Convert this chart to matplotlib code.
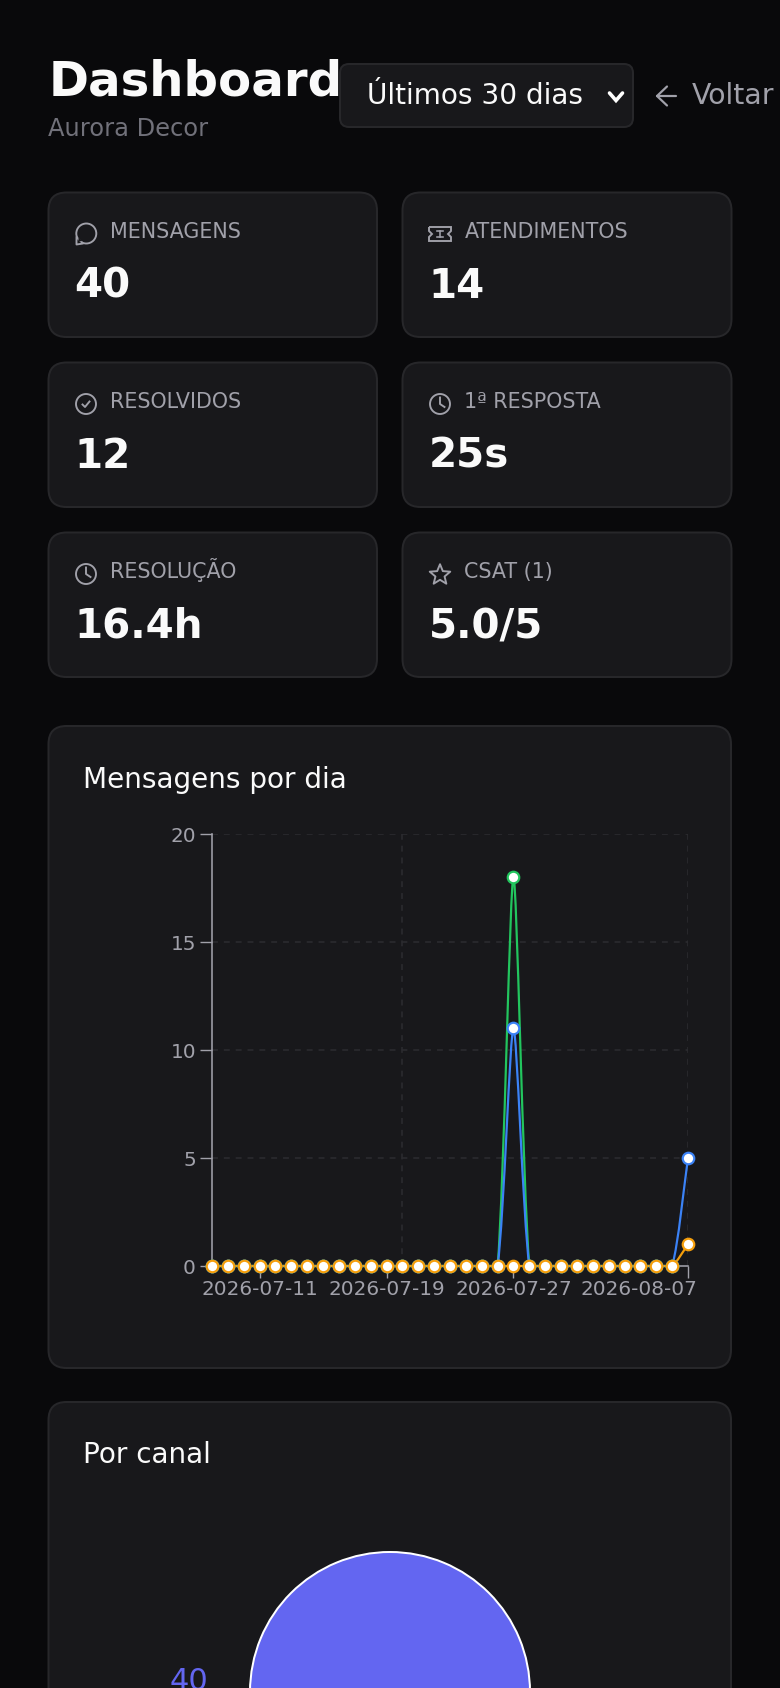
import numpy as np
import matplotlib
matplotlib.use("Agg")
import matplotlib.pyplot as plt
from matplotlib.patches import FancyBboxPatch, Circle, PathPatch, Polygon
from matplotlib.path import Path
from matplotlib.transforms import ScaledTranslation

# ---------------------------------------------------------
# data
# ---------------------------------------------------------
TITLE = "Dashboard"
SUBTITLE = "Aurora Decor"
PERIOD = "Últimos 30 dias"
BACK = "Voltar"

KPI_LABELS = ["MENSAGENS", "ATENDIMENTOS", "RESOLVIDOS", "1ª RESPOSTA", "RESOLUÇÃO", "CSAT (1)"]
KPI_VALUES = ["40", "14", "12", "25s", "16.4h", "5.0/5"]
KPI_ICONS = ["chat", "ticket", "check", "clock", "clock", "star"]

DAYS = list(range(31))
# the green series stops one day earlier than the other two
SERIES_GREEN = [0, 0, 0, 0, 0, 0, 0, 0, 0, 0, 0, 0, 0, 0, 0, 0, 0, 0, 0, 18, 0, 0, 0, 0, 0, 0, 0, 0, 0, 0]
SERIES_BLUE = [0, 0, 0, 0, 0, 0, 0, 0, 0, 0, 0, 0, 0, 0, 0, 0, 0, 0, 0, 11, 0, 0, 0, 0, 0, 0, 0, 0, 0, 0, 5]
SERIES_ORANGE = [0, 0, 0, 0, 0, 0, 0, 0, 0, 0, 0, 0, 0, 0, 0, 0, 0, 0, 0, 0, 0, 0, 0, 0, 0, 0, 0, 0, 0, 0, 1]

X_TICKS = [3, 11, 19, 30]
X_LABELS = ["2026-07-11", "2026-07-19", "2026-07-27", "2026-08-07"]
X_GRID = [0, 12, 30]
Y_TICKS = [0, 5, 10, 15, 20]

CANAL_VALUES = [40]
CANAL_LABELS = ["40"]

# colours
BG = "#09090b"
CARD = "#18181b"
BORDER = "#27272a"
MUTED = "#a1a1aa"
DIM = "#71717a"
LIGHT = "#fafafa"
GRID = "#2b2b2f"
GREEN = "#22c55e"
BLUE = "#3b82f6"
ORANGE = "#f59e0b"
INDIGO = "#6366f1"


def px(v):
    # css pixels to points at dpi 100
    return v * 0.72


# ---------------------------------------------------------
# page background, all in pixel coordinates
# ---------------------------------------------------------
fig = plt.figure(figsize=(7.8, 16.88), dpi=100, facecolor=BG)
bg = fig.add_axes([0, 0, 1, 1], zorder=0)
bg.set_xlim(0, 780)
bg.set_ylim(1688, 0)
bg.axis("off")


def card(x0, y0, x1, y1, r=18):
    bg.add_patch(FancyBboxPatch((x0, y0), x1 - x0, y1 - y0,
                                boxstyle=f"round,pad=0,rounding_size={r}",
                                fc=CARD, ec=BORDER, lw=px(2), mutation_aspect=1))


def icon(kind, x, y):
    # x, y = centre of the icon
    style = dict(fc="none", ec=MUTED, lw=px(1.9))
    if kind == "chat":
        bg.add_patch(Circle((x + 0.3, y - 0.5), 10, **style))
        bg.add_patch(Polygon([(x - 9.5, y + 3), (x - 9.5, y + 10.5), (x - 3, y + 9.5)],
                             fc=CARD, ec=MUTED, lw=px(1.9), joinstyle="round"))
        bg.add_patch(Polygon([(x - 7.5, y + 3), (x - 7.5, y + 7.5), (x - 3.5, y + 7)],
                             fc=CARD, ec="none"))
    elif kind == "ticket":
        path = Path([(x - 11, y - 7), (x + 11, y - 7), (x + 11, y - 3), (x + 8, y), (x + 11, y + 3),
                     (x + 11, y + 7), (x - 11, y + 7), (x - 11, y + 3), (x - 8, y), (x - 11, y - 3),
                     (x - 11, y - 7)], closed=False)
        bg.add_patch(PathPatch(path, **style))
        bg.plot([x - 3, x + 3], [y - 3, y - 3], color=MUTED, lw=px(1.6))
        bg.plot([x - 3, x + 3], [y + 3, y + 3], color=MUTED, lw=px(1.6))
        bg.plot([x, x], [y - 3, y + 3], color=MUTED, lw=px(1.6))
    elif kind == "check":
        bg.add_patch(Circle((x, y), 10, **style))
        bg.plot([x - 3.5, x - 1, x + 3.5], [y + 0.5, y + 3, y - 2.5], color=MUTED, lw=px(1.9))
    elif kind == "clock":
        bg.add_patch(Circle((x, y), 10, **style))
        bg.plot([x, x, x + 4.5], [y - 6.5, y, y + 3], color=MUTED, lw=px(1.9))
    elif kind == "star":
        ang = np.radians(np.arange(-90, 270, 36))
        rad = np.array([10.8, 4.8, 10.8, 4.8, 10.8, 4.8, 10.8, 4.8, 10.8, 4.8])
        bg.add_patch(Polygon(np.c_[x + rad * np.cos(ang), y + 1 + rad * np.sin(ang)],
                             joinstyle="round", **style))


# ---------------------------------------------------------
# header
# ---------------------------------------------------------
bg.text(49, 96, TITLE, fontsize=px(48.2), fontweight="bold", color=LIGHT, va="baseline")
bg.text(48, 136, SUBTITLE, fontsize=px(24.1), color=DIM, va="baseline")

card(340, 64, 633, 127, r=9)
bg.text(367, 104, PERIOD, fontsize=px(28), color=LIGHT, va="baseline")
bg.plot([609.5, 616, 622.5], [93, 100.5, 93], color="white", lw=px(3.6), solid_capstyle="round",
        solid_joinstyle="miter")

bg.plot([676, 657, 667], [96, 96, 86.5], color=MUTED, lw=px(2.2), solid_capstyle="round")
bg.plot([657, 667], [96, 105.5], color=MUTED, lw=px(2.2), solid_capstyle="round")
bg.text(691.5, 104, BACK, fontsize=px(28.4), color=MUTED, va="baseline")

# ---------------------------------------------------------
# KPI cards
# ---------------------------------------------------------
col_x = [(48.5, 377), (402.5, 731.5)]
row_y = [(192.5, 337), (362.5, 507), (532.5, 677)]
for i in range(len(KPI_LABELS)):
    x0, x1 = col_x[i % 2]
    y0, y1 = row_y[i // 2]
    card(x0, y0, x1, y1)
    icon(KPI_ICONS[i], x0 + 37.5, y0 + 41.5)
    bg.text(x0 + 62, y0 + 45.5, KPI_LABELS[i], fontsize=px(20.7), color=MUTED, va="baseline")
    bg.text(x0 + 26, y0 + 105.5, KPI_VALUES[i], fontsize=px(40.4), fontweight="bold", color=LIGHT, va="baseline")

# ---------------------------------------------------------
# Mensagens por dia
# ---------------------------------------------------------
card(48.5, 726, 731, 1368)
bg.text(83, 788, "Mensagens por dia", fontsize=px(27.9), color=LIGHT, va="baseline")

ax = fig.add_axes([212 / 780, 1 - 1266 / 1688, (688 - 212) / 780, (1266 - 834) / 1688], zorder=1)
ax.set_facecolor("none")
ax.set_xlim(DAYS[0], DAYS[-1])
ax.set_ylim(Y_TICKS[0], Y_TICKS[-1])

for s in ["top", "right"]:
    ax.spines[s].set_visible(False)
for s in ["left", "bottom"]:
    ax.spines[s].set_color(MUTED)
    ax.spines[s].set_linewidth(px(1.6))

ax.set_yticks(Y_TICKS)
ax.set_xticks(X_TICKS)
ax.set_xticklabels(X_LABELS)
ax.tick_params(axis="both", length=px(12), width=px(1.4), color=MUTED, labelcolor=MUTED,
               labelsize=px(20), pad=px(4))
ax.tick_params(axis="x", pad=px(2))
ax.grid(False)
for v in Y_TICKS[1:]:
    ax.axhline(v, color=GRID, lw=px(1.6), dashes=(3.7, 3.7), zorder=1)
for v in X_GRID[1:]:
    ax.axvline(v, color=GRID, lw=px(1.6), dashes=(3.7, 3.7), zorder=1)

# last date label sits inside the plot edge
last = ax.get_xticklabels()[-1]
last.set_ha("right")
last.set_transform(last.get_transform() + ScaledTranslation(9 / 100, 0, fig.dpi_scale_trans))


def smooth_line(xs, ys, color, smooth=0.22):
    # smooth curve through the points, tangents taken in screen space
    pts = ax.transData.transform(np.c_[xs, ys])
    n = len(pts)
    cp_in = pts.copy()
    cp_out = pts.copy()
    for k in range(n):
        prv = pts[max(k - 1, 0)]
        nxt = pts[min(k + 1, n - 1)]
        v = nxt - prv
        len_prev = np.hypot(*(pts[k] - prv))
        len_next = np.hypot(*(nxt - pts[k]))
        ratio = len_next / (len_next + len_prev)
        cp_in[k] = pts[k] - v * smooth * (1 - ratio)
        cp_out[k] = pts[k] + v * smooth * ratio
        # keep the control points between the neighbours
        cp_in[k] = np.clip(cp_in[k], np.minimum(prv, pts[k]), np.maximum(prv, pts[k]))
        cp_out[k] = np.clip(cp_out[k], np.minimum(nxt, pts[k]), np.maximum(nxt, pts[k]))
    verts = [pts[0]]
    codes = [Path.MOVETO]
    for k in range(1, n):
        verts += [cp_out[k - 1], cp_in[k], pts[k]]
        codes += [Path.CURVE4, Path.CURVE4, Path.CURVE4]
    verts = ax.transData.inverted().transform(np.array(verts))
    ax.add_patch(PathPatch(Path(verts, codes), fc="none", ec=color, lw=px(2.2), zorder=3, clip_on=False))
    ax.plot(xs, ys, ls="none", marker="o", ms=px(11.5), mfc="white", mec=color, mew=px(2.2),
            zorder=4, clip_on=False)


smooth_line(DAYS[:len(SERIES_GREEN)], SERIES_GREEN, GREEN)
smooth_line(DAYS, SERIES_BLUE, BLUE)
smooth_line(DAYS, SERIES_ORANGE, ORANGE)

# ---------------------------------------------------------
# Por canal (the page continues below the picture)
# ---------------------------------------------------------
card(48.5, 1402, 731, 1760)
bg.text(83, 1463, "Por canal", fontsize=px(27.9), color=LIGHT, va="baseline")

pie_r = 140
pie_cx, pie_cy = 390, 1692
pie_ax = fig.add_axes([(pie_cx - pie_r) / 780, 1 - (pie_cy + pie_r) / 1688, 2 * pie_r / 780, 2 * pie_r / 1688], zorder=1)
pie_ax.pie(CANAL_VALUES, colors=[INDIGO], radius=1, startangle=90,
           wedgeprops=dict(edgecolor="white", linewidth=px(2)))
pie_ax.set_xlim(-1, 1)
pie_ax.set_ylim(-1, 1)

bg.text(208, 1690, CANAL_LABELS[0], fontsize=px(30.5), color=INDIGO, ha="right", va="baseline", clip_on=True)

fig.savefig("out.png", dpi=100, facecolor=BG)
